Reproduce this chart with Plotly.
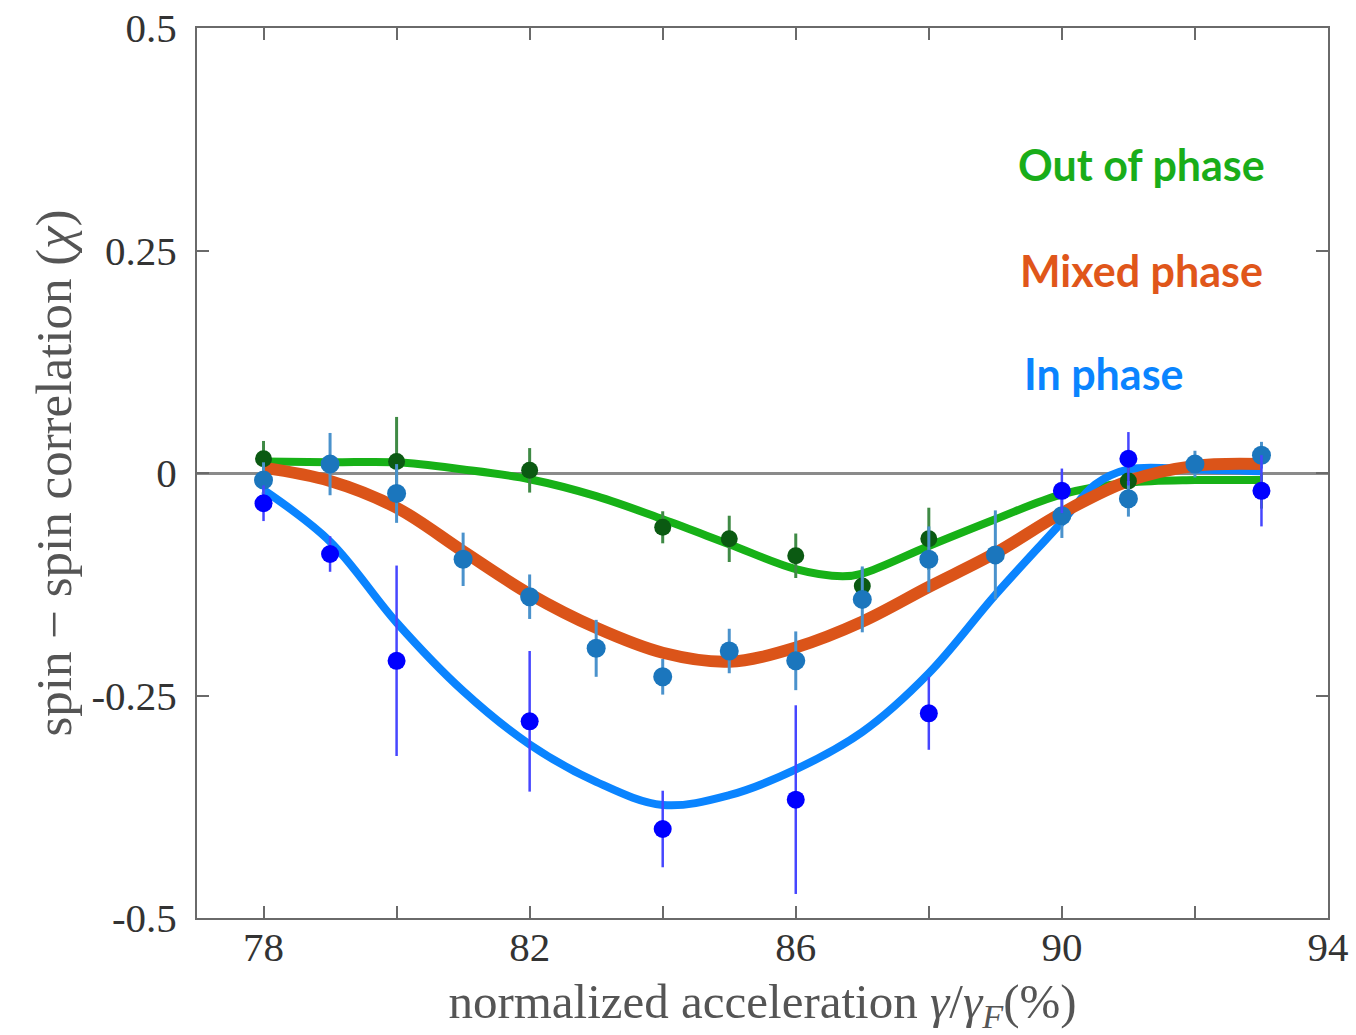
import plotly.graph_objects as go

# ---- measured spin-spin correlation (points with error bars) ----
out_x = [78, 80, 82, 84, 85, 86, 87, 88, 91, 93]
out_y = [0.016, 0.013, 0.003, -0.061, -0.074, -0.093, -0.127, -0.074, -0.009, -0.020]
out_err = [0.02, 0.05, 0.025, 0.018, 0.026, 0.025, 0.02, 0.035, 0.03, 0.02]

mix_x = [78, 79, 80, 81, 82, 83, 84, 85, 86, 87, 88, 89, 90, 91, 92, 93]
mix_y = [-0.008, 0.010, -0.023, -0.097, -0.139, -0.197, -0.229, -0.200, -0.211,
         -0.142, -0.097, -0.092, -0.048, -0.029, 0.010, 0.020]
mix_err = [0.02, 0.035, 0.033, 0.03, 0.025, 0.032, 0.02, 0.025, 0.033,
           0.037, 0.037, 0.05, 0.025, 0.02, 0.015, 0.015]

in_x = [78, 79, 80, 82, 84, 86, 88, 90, 91, 93]
in_y = [-0.034, -0.091, -0.211, -0.279, -0.400, -0.367, -0.270, -0.020, 0.016, -0.020]
in_err = [0.02, 0.02, 0.107, 0.079, 0.043, 0.106, 0.041, 0.025, 0.03, 0.04]

# ---- fitted curves ----
fit_out_x = [78, 79, 80, 81, 82, 83, 84, 85, 86, 86.7, 87, 88, 89, 90, 91, 92, 93]
fit_out_y = [0.013, 0.012, 0.012, 0.004, -0.007, -0.026, -0.052, -0.080, -0.108,
             -0.116, -0.113, -0.082, -0.052, -0.024, -0.011, -0.008, -0.008]

fit_mix_x = [78, 79, 80, 81, 82, 83, 84, 85, 86, 87, 88, 89, 90, 91, 92, 93]
fit_mix_y = [0.006, -0.009, -0.039, -0.088, -0.136, -0.174, -0.202, -0.212, -0.196,
             -0.167, -0.128, -0.090, -0.045, -0.009, 0.008, 0.010]

fit_in_x = [78, 79, 80, 81, 82, 83, 84, 85, 86, 87, 88, 89, 90, 90.5, 91, 92, 93]
fit_in_y = [-0.019, -0.077, -0.168, -0.245, -0.305, -0.347, -0.373, -0.362, -0.333,
            -0.291, -0.225, -0.137, -0.055, -0.013, 0.004, 0.004, 0.002]

# ---- axes ----
x_tickvals = [78, 80, 82, 84, 86, 88, 90, 92, 94]
x_ticktext = ["78", "", "82", "", "86", "", "90", "", "94"]
y_tickvals = [-0.5, -0.25, 0, 0.25, 0.5]
y_ticktext = ["-0.5", "-0.25", "0", "0.25", "0.5"]

C_OUT_LINE = "#17b117"
C_MIX_LINE = "#db5419"
C_IN_LINE = "#0a84ff"
C_OUT_PT = "#0b5a12"
C_MIX_PT = "#1b76bd"
C_IN_PT = "#0000ff"

fig = go.Figure()

fig.add_trace(go.Scatter(x=fit_out_x, y=fit_out_y, mode="lines",
                         line=dict(color=C_OUT_LINE, width=8, shape="spline"),
                         name="Out of phase fit"))
fig.add_trace(go.Scatter(x=fit_in_x, y=fit_in_y, mode="lines",
                         line=dict(color=C_IN_LINE, width=8, shape="spline"),
                         name="In phase fit"))
fig.add_trace(go.Scatter(x=fit_mix_x, y=fit_mix_y, mode="lines",
                         line=dict(color=C_MIX_LINE, width=12, shape="spline"),
                         name="Mixed phase fit"))

fig.add_trace(go.Scatter(x=out_x, y=out_y, mode="markers",
                         marker=dict(color=C_OUT_PT, size=17),
                         error_y=dict(type="data", array=out_err, width=0,
                                      thickness=3, color="#3f8a45"),
                         name="Out of phase"))
fig.add_trace(go.Scatter(x=mix_x, y=mix_y, mode="markers",
                         marker=dict(color=C_MIX_PT, size=19),
                         error_y=dict(type="data", array=mix_err, width=0,
                                      thickness=3, color="#4a92cc"),
                         name="Mixed phase"))
fig.add_trace(go.Scatter(x=in_x, y=in_y, mode="markers",
                         marker=dict(color=C_IN_PT, size=18),
                         error_y=dict(type="data", array=in_err, width=0,
                                      thickness=2.5, color="#4646ff"),
                         name="In phase"))

label_font = dict(family="Lato, 'Noto Sans', sans-serif", size=43)
fig.add_annotation(x=91.2, y=0.347, text="<b>Out of phase</b>", showarrow=False,
                   font=dict(label_font, color="#19ad19"), xanchor="center", yanchor="middle")
fig.add_annotation(x=91.2, y=0.227, text="<b>Mixed phase</b>", showarrow=False,
                   font=dict(label_font, color="#e0561a"), xanchor="center", yanchor="middle")
fig.add_annotation(x=90.63, y=0.112, text="<b>In phase</b>", showarrow=False,
                   font=dict(label_font, color="#0a84ff"), xanchor="center", yanchor="middle")

serif = "'Liberation Serif', 'DejaVu Serif', serif"
axis_common = dict(showline=True, linecolor="#6a6a6a", linewidth=2, mirror="ticks",
                   ticks="inside", ticklen=12, tickwidth=2, tickcolor="#6a6a6a",
                   showgrid=False, automargin=False,
                   tickfont=dict(family=serif, size=41, color="#333333"))

fig.update_xaxes(range=[77, 94], tickvals=x_tickvals, ticktext=x_ticktext,
                 zeroline=False, ticklabelstandoff=-8,
                 title=dict(text="normalized acceleration <i>γ</i>/<i>γ</i><sub><i>F</i></sub>(%)",
                            font=dict(family=serif, size=49, color="#555555"), standoff=14),
                 **axis_common)
fig.update_yaxes(range=[-0.5, 0.5], tickvals=y_tickvals, ticktext=y_ticktext,
                 zeroline=True, zerolinecolor="#8a8a8a", zerolinewidth=3,
                 ticklabelstandoff=10,
                 title=dict(text="spin − spin correlation (<i>χ</i>)",
                            font=dict(family=serif, size=51, color="#555555"), standoff=4),
                 **axis_common)

fig.update_layout(width=1356, height=1035, showlegend=False,
                  plot_bgcolor="white", paper_bgcolor="white",
                  margin=dict(l=197, r=28, t=28, b=117))

fig.write_html("out.html")
